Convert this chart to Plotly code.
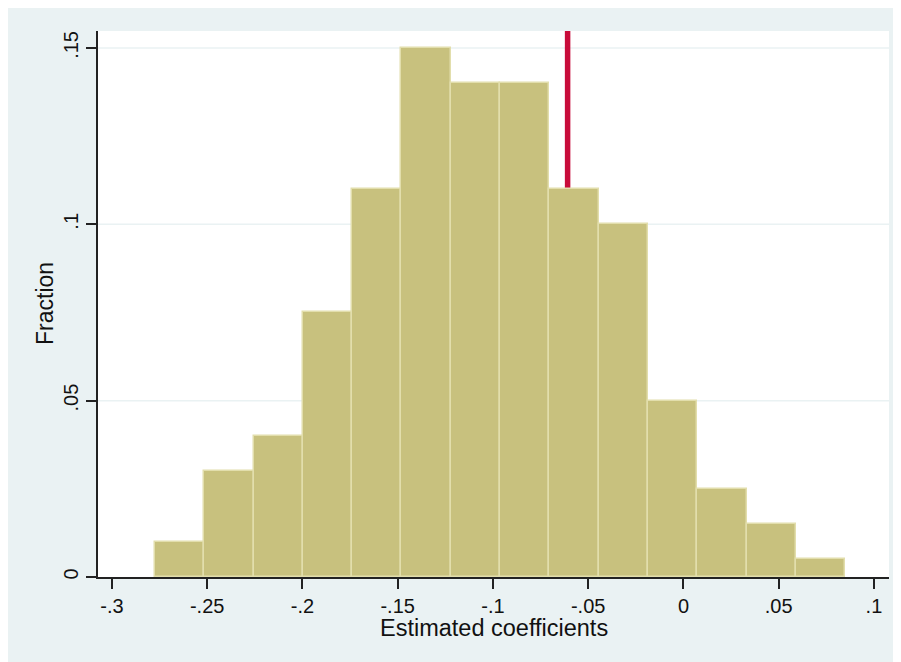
import plotly.graph_objects as go

# ---- data ----
fractions = [0.01, 0.03, 0.04, 0.075, 0.11, 0.15, 0.14, 0.14, 0.11, 0.10, 0.05, 0.025, 0.015, 0.005]
bin_start = -0.2774
bin_width = 0.02588
observed_coef = -0.0608

x_tick_vals = [-0.3, -0.25, -0.2, -0.15, -0.1, -0.05, 0.0, 0.05, 0.1]
x_tick_text = ["-.3", "-.25", "-.2", "-.15", "-.1", "-.05", "0", ".05", ".1"]
y_tick_vals = [0, 0.05, 0.1, 0.15]
y_tick_text = ["0", ".05", ".1", ".15"]

x_title = "Estimated coefficients"
y_title = "Fraction"

# ---- styling ----
W, H = 893, 654
L, R, T, B = 90, 12, 23, 85
FONT = "Liberation Sans, Arial, sans-serif"
REGION = "#EAF2F3"
BAR_FILL = "rgb(200,193,126)"
BAR_LINE = "rgb(226,222,172)"
TEXT = "#111111"

centers = [bin_start + (i + 0.5) * bin_width for i in range(len(fractions))]

fig = go.Figure()
fig.add_trace(go.Bar(
    x=centers, y=fractions, width=[bin_width] * len(fractions),
    marker=dict(color=BAR_FILL, line=dict(color=BAR_LINE, width=1.5)),
    hoverinfo="skip", showlegend=False,
))

# gridlines as shapes so the observed line can sit above them
for v in y_tick_vals[1:]:
    fig.add_shape(type="line", xref="paper", yref="y", x0=0, x1=1, y0=v, y1=v,
                  line=dict(color=REGION, width=1.5), layer="below")

# observed coefficient line (behind bars, full plot height)
fig.add_shape(type="line", xref="x", yref="paper",
              x0=observed_coef, x1=observed_coef, y0=0, y1=1,
              line=dict(color="rgb(200,12,58)", width=5.5), layer="below")

pw = W - L - R
ph = H - T - B

fig.update_layout(
    width=W, height=H,
    margin=dict(l=L, r=R, t=T, b=B, pad=0),
    paper_bgcolor=REGION, plot_bgcolor="white",
    font=dict(family=FONT, color=TEXT),
    bargap=0,
    xaxis=dict(
        range=[-0.3073, 0.1079], tickmode="array",
        tickvals=x_tick_vals, ticktext=x_tick_text,
        ticks="outside", ticklen=10, tickwidth=1.5, tickcolor="#222",
        showline=True, linecolor="#222", linewidth=1.5,
        showgrid=False, zeroline=False,
        tickfont=dict(size=20, family=FONT, color=TEXT),
    ),
    yaxis=dict(
        range=[0, 0.1548], tickmode="array",
        tickvals=y_tick_vals, ticktext=y_tick_text,
        tickangle=-90,
        ticks="outside", ticklen=10, tickwidth=1.5, tickcolor="#222",
        showline=True, linecolor="#222", linewidth=1.5,
        showgrid=False, zeroline=False,
        tickfont=dict(size=20, family=FONT, color=TEXT),
    ),
    annotations=[
        dict(text=x_title, xref="paper", yref="paper",
             x=0.5, y=-(51) / ph, xanchor="center", yanchor="middle",
             showarrow=False, font=dict(size=23.5, family=FONT, color=TEXT)),
        dict(text=y_title, xref="paper", yref="paper",
             x=-(L - 37) / pw, y=0.5, xanchor="center", yanchor="middle",
             textangle=-90,
             showarrow=False, font=dict(size=23, family=FONT, color=TEXT)),
    ],
)

fig.write_html("out.html")
